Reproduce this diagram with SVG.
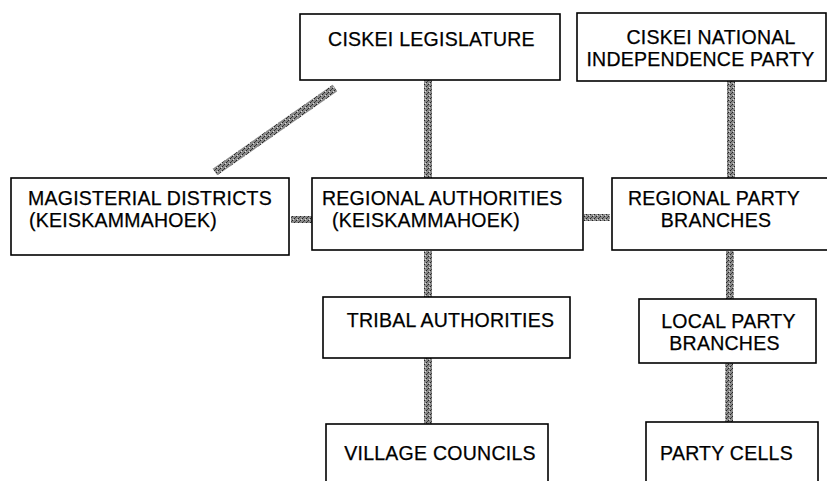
<svg xmlns="http://www.w3.org/2000/svg" width="827" height="481" viewBox="0 0 827 481">
<style>
.box{fill:#fff;stroke:#000;stroke-width:1.6}
.t{font-family:"Liberation Sans",Arial,sans-serif;font-size:19.5px;letter-spacing:0.25px;fill:#000;stroke:#000;stroke-width:0.25}
.m{text-anchor:middle}
.bar{fill:url(#hatch)}
</style>
<defs>
<pattern id="hatch" width="4" height="4" patternUnits="userSpaceOnUse">
<rect width="4" height="4" fill="#8a8a8a"/>
<rect x="0" y="0" width="1" height="1" fill="#222"/>
<rect x="2" y="2" width="1" height="1" fill="#222"/>
<rect x="1" y="3" width="1" height="1" fill="#ddd"/>
<rect x="3" y="1" width="1" height="1" fill="#444"/>
</pattern>
</defs>
<g id="connectors">
<rect class="bar" x="424" y="80" width="8" height="98"/>
<rect class="bar" x="727" y="81" width="8" height="98"/>
<rect class="bar" x="424" y="251" width="8" height="46"/>
<rect class="bar" x="424" y="358" width="8" height="66"/>
<rect class="bar" x="726" y="251" width="8" height="48"/>
<rect class="bar" x="725" y="363" width="8" height="59"/>
<rect class="bar" x="291" y="216" width="21" height="7"/>
<rect class="bar" x="584" y="214" width="26" height="7"/>
<line x1="215" y1="172" x2="335" y2="88" stroke="url(#hatch)" stroke-width="8"/>
</g>
<g id="legislature">
<rect class="box" x="300" y="14" width="260" height="66"/>
<text class="t m" x="431.5" y="46">CISKEI LEGISLATURE</text>
</g>
<g id="cnip">
<rect class="box" x="577" y="13" width="249" height="68"/>
<text class="t m" y="44"><tspan x="711">CISKEI NATIONAL</tspan><tspan x="700.5" dy="22">INDEPENDENCE PARTY</tspan></text>
</g>
<g id="magisterial">
<rect class="box" x="11" y="178" width="278" height="77"/>
<text class="t" y="205"><tspan x="28">MAGISTERIAL DISTRICTS</tspan><tspan x="29" dy="22">(KEISKAMMAHOEK)</tspan></text>
</g>
<g id="regional-authorities">
<rect class="box" x="312" y="178" width="271" height="72"/>
<text class="t" y="205"><tspan x="322">REGIONAL AUTHORITIES</tspan><tspan x="332" dy="22">(KEISKAMMAHOEK)</tspan></text>
</g>
<g id="regional-party">
<rect class="box" x="612" y="178" width="216" height="72"/>
<text class="t m" y="205"><tspan x="714">REGIONAL PARTY</tspan><tspan x="716" dy="22">BRANCHES</tspan></text>
</g>
<g id="tribal">
<rect class="box" x="323" y="297" width="247" height="61"/>
<text class="t m" x="450.5" y="327">TRIBAL AUTHORITIES</text>
</g>
<g id="local-party">
<rect class="box" x="639" y="299" width="177" height="64"/>
<text class="t m" y="328"><tspan x="728.5">LOCAL PARTY</tspan><tspan x="724.5" dy="22">BRANCHES</tspan></text>
</g>
<g id="village">
<rect class="box" x="326" y="424" width="222" height="70"/>
<text class="t m" x="440" y="460">VILLAGE COUNCILS</text>
</g>
<g id="party-cells">
<rect class="box" x="646" y="422" width="172" height="72"/>
<text class="t m" x="726.5" y="460">PARTY CELLS</text>
</g>
</svg>
